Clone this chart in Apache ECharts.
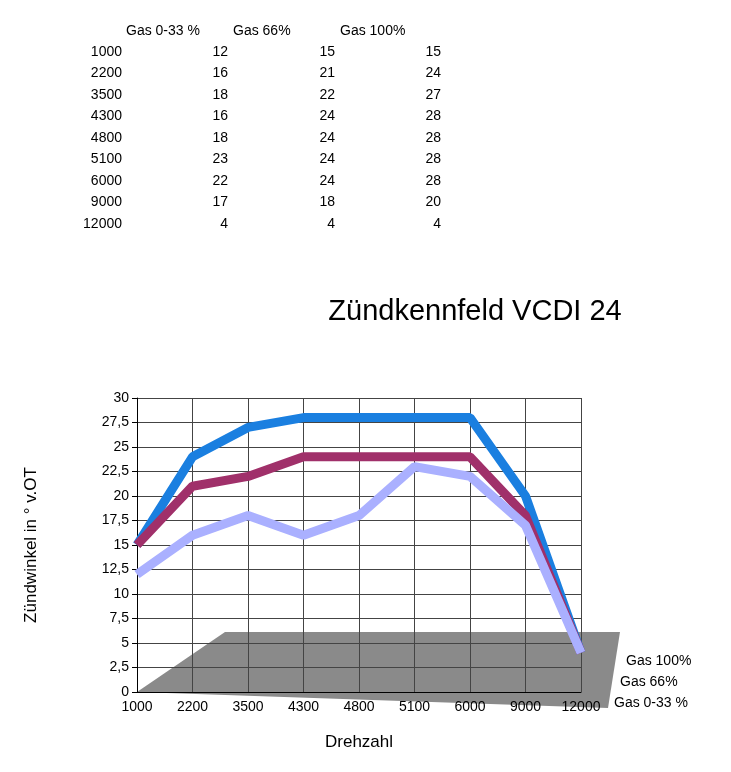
<!DOCTYPE html>
<html>
<head>
<meta charset="utf-8">
<script src="https://cdn.jsdelivr.net/npm/echarts@6/dist/echarts.min.js"></script>
<style>
    html, body { margin: 0; padding: 0; background: #fff; }
    #chart { width: 731px; height: 772px; }
</style>
</head>
<body>
<div id="chart"></div>
<script>
var categories = ["1000", "2200", "3500", "4300", "4800", "5100", "6000", "9000", "12000"];
var gasLow = [12, 16, 18, 16, 18, 23, 22, 17, 4];
var gasMid = [15, 21, 22, 24, 24, 24, 24, 18, 4];
var gasFull = [15, 24, 27, 28, 28, 28, 28, 20, 4];
var seriesNames = ["Gas 0-33 %", "Gas 66%", "Gas 100%"];
var seriesColors = ["#aab0ff", "#a0306a", "#1a7fe0"];

var chart = echarts.init(document.getElementById('chart'));

// table at the top
var font = '14px "Liberation Sans", Arial, sans-serif';
var graphics = [];
var colRight = [228, 335, 441];
var headerLeft = [126, 233, 340];
for (var i = 0; i < seriesNames.length; i++) {
    graphics.push({ type: 'text', left: headerLeft[i], top: 24, style: { text: seriesNames[i], font: font, fill: '#000' } });
}
var cols = [gasLow, gasMid, gasFull];
for (var r = 0; r < categories.length; r++) {
    var y = 45 + r * 21.5;
    graphics.push({ type: 'text', x: 122, y: y, style: { text: categories[r], font: font, fill: '#000', align: 'right' } });
    for (var c = 0; c < cols.length; c++) {
        graphics.push({ type: 'text', x: colRight[c], y: y, style: { text: String(cols[c][r]), font: font, fill: '#000', align: 'right' } });
    }
}
// depth labels at right
var depthLabels = [["Gas 100%", 626, 654], ["Gas 66%", 620, 675], ["Gas 0-33 %", 614, 696]];
for (var d = 0; d < depthLabels.length; d++) {
    graphics.push({ type: 'text', left: depthLabels[d][1], top: depthLabels[d][2], style: { text: depthLabels[d][0], font: '14px "Liberation Sans", Arial, sans-serif', fill: '#000' } });
}
// floor
graphics.push({ type: 'polygon', shape: { points: [[137, 692], [225, 632], [620, 632], [608, 708], [137, 692]] }, style: { fill: '#8a8a8a' }, z: -1 });

var series = [];
var data = [gasFull, gasMid, gasLow];
var colors = [seriesColors[2], seriesColors[1], seriesColors[0]];
for (var s = 0; s < 3; s++) {
    series.push({
        name: seriesNames[2 - s],
        type: 'line',
        data: data[s],
        symbol: 'none',
        lineStyle: { width: 9, color: colors[s] },
        z: 2 + s
    });
}

var option = {
    animation: false,
    title: {
        text: 'Zündkennfeld VCDI 24',
        left: 470,
        top: 292,
        textAlign: 'center',
        textStyle: { fontFamily: '"Liberation Sans", Arial, sans-serif', fontSize: 29, fontWeight: 'normal', color: '#000' }
    },
    graphic: graphics,
    grid: { left: 137, right: 150, top: 398, bottom: 80 },
    xAxis: {
        type: 'category',
        data: categories,
        boundaryGap: false,
        name: 'Drehzahl',
        nameLocation: 'middle',
        nameGap: 42,
        nameTextStyle: { fontSize: 17, fontFamily: '"Liberation Sans", Arial, sans-serif', color: '#000' },
        axisLine: { lineStyle: { color: '#000' } },
        axisTick: { show: false },
        axisLabel: { color: '#000', fontSize: 14, fontFamily: '"Liberation Sans", Arial, sans-serif' },
        splitLine: { show: true, lineStyle: { color: '#444', width: 1 } }
    },
    yAxis: {
        type: 'value',
        min: 0,
        max: 30,
        interval: 2.5,
        name: 'Zündwinkel in ° v.OT',
        nameLocation: 'middle',
        nameGap: 97,
        nameTextStyle: { fontSize: 17, fontFamily: '"Liberation Sans", Arial, sans-serif', color: '#000' },
        axisLine: { show: true, lineStyle: { color: '#000' } },
        axisTick: { show: true },
        axisLabel: {
            color: '#000', fontSize: 14, fontFamily: '"Liberation Sans", Arial, sans-serif',
            formatter: function (v) { return String(v).replace('.', ','); }
        },
        splitLine: { show: true, lineStyle: { color: '#444', width: 1 } }
    },
    series: series
};

chart.setOption(option);
</script>
</body>
</html>
